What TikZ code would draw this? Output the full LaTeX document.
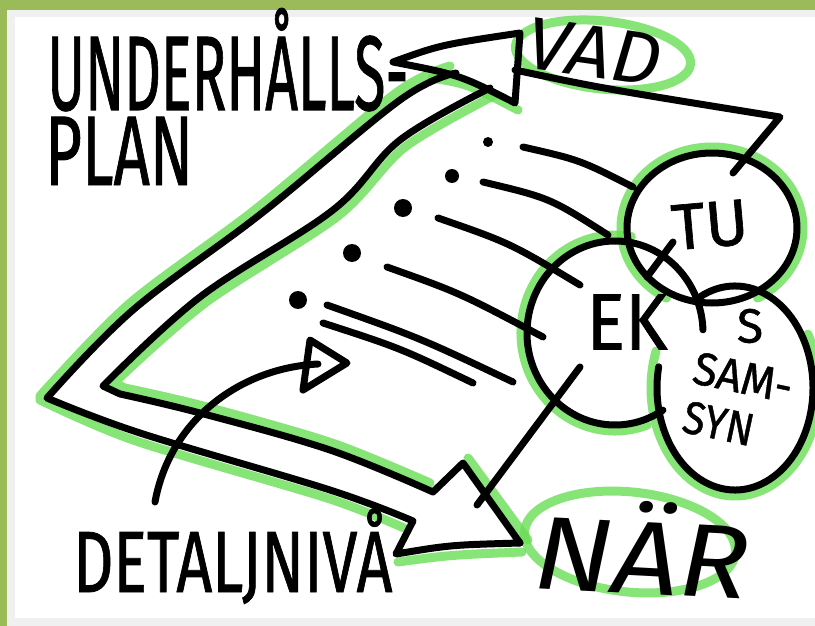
\documentclass[tikz,border=0pt]{standalone}
\usepackage{fontspec}
\newfontfamily\hand[FakeBold=1]{Fira Sans}
\newfontfamily\handlight{Fira Sans}
\definecolor{frameg}{RGB}{155,187,89}
\definecolor{frameb}{RGB}{240,240,240}
\definecolor{hl}{RGB}{105,222,85}
\newcommand{\handtext}[3]{\scalebox{#1}[1]{\fontsize{#2}{#2}\selectfont\hand #3}}
\newcommand{\handital}[3]{\scalebox{#1}[1]{\fontsize{#2}{#2}\selectfont\handlight\itshape #3}}
\begin{document}
\begin{tikzpicture}[x=1pt,y=-1pt,
  ink/.style={draw=black, line width=7pt, line cap=round, line join=round},
  halo/.style={draw=hl, line width=9pt, line cap=round, line join=round, opacity=0.8},
  lbl/.style={inner sep=0pt, text=black},
  dot/.style={fill=black, draw=none}]
\useasboundingbox (0,0) rectangle (815,626);
\fill[frameg] (0,0) rectangle (815,626);
\fill[frameb] (7,10) rectangle (815,626);
\fill[white] (15,17) rectangle (815,618);
% ---------- green highlights ----------
\draw[halo, shift={(603,55)}, rotate=-6] (0,0) ellipse[x radius=88, y radius=34];
\draw[halo, shift={(630,542)}, rotate=-6] (0,0) ellipse[x radius=106, y radius=50];
\draw[halo] (712,228) ++(120:91 and 81) arc[start angle=120, end angle=420, x radius=91, y radius=81];
\draw[halo] (615,333) ++(70:94 and 98) arc[start angle=70, end angle=280, x radius=94, y radius=98];
\draw[halo] (735,388) ++(-30:84 and 108) arc[start angle=-30, end angle=200, x radius=84, y radius=108];
\draw[halo] plot[smooth] coordinates {(450,66) (396,93) (256,209) (129,304) (40,396)}
  -- plot[smooth] coordinates {(40,400) (136,441) (327,498) (404,528)};
\draw[halo] plot[smooth] coordinates {(495,95) (405,147) (338,216) (205,303) (114,383)}
  -- plot[smooth] coordinates {(125,388) (203,406) (332,443) (430,483)};
\draw[halo] (432,78) .. controls (468,84) .. (518,110);
\draw[halo] (468,458) -- (528,540);
\draw[halo] (398,562) .. controls (450,555) .. (522,552);
% ---------- big double arrow ----------
\draw[ink] plot[smooth, tension=0.6] coordinates {(456,73) (400,100) (262,213) (133,310) (47,398)}
  -- plot[smooth, tension=0.6] coordinates {(47,398) (140,433) (330,490) (413,521)}
  -- (396,554) .. controls (450,545) .. (520,543);
\draw[ink] plot[smooth, tension=0.6] coordinates {(490,88) (400,140) (333,210) (200,297) (103,386)}
  -- (120,394) -- plot[smooth, tension=0.6] coordinates {(120,394) (200,413) (330,450) (433,492)}
  -- (463,463) -- (520,543);
\draw[ink] (393,62) .. controls (440,45) .. (520,33) -- (515,103) .. controls (460,75) .. cycle;
\draw[ink] (515,70) .. controls (600,88) .. (780,117) -- (733,173);
% ---------- detail arrow ----------
\draw[ink] (155,502) .. controls (170,420) and (240,368) .. (318,364);
\draw[ink] (310,340) -- (347,363) -- (303,390) -- cycle;
% ---------- bullets and lines ----------
\fill[dot] (488,142) circle[radius=5];
\fill[dot] (452,176) circle[radius=7];
\fill[dot] (403,208) circle[radius=9];
\fill[dot] (352,253) circle[radius=9];
\fill[dot] (298,300) circle[radius=9];
\draw[ink] (523,147) .. controls (580,160) .. (633,187);
\draw[ink] (483,182) .. controls (550,198) .. (608,235);
\draw[ink] (438,218) .. controls (510,243) .. (580,285);
\draw[ink] (387,267) .. controls (460,293) .. (543,337);
\draw[ink] (327,305) .. controls (420,338) .. (513,382);
\draw[ink] (323,323) .. controls (400,348) .. (473,383);
% ---------- circles ----------
\draw[ink] (712,228) ellipse[x radius=85, y radius=75];
\draw[ink] (615,333) ++(57:88 and 92) arc[start angle=57, end angle=358, x radius=88, y radius=92];
\draw[ink] (735,388) ++(244:78 and 102) arc[start angle=244, end angle=552, x radius=78, y radius=102];
\draw[ink] (647,277) -- (673,242);
\draw[ink] (580,367) -- (477,505);
% ---------- texts ----------
\node[lbl, anchor=base west] (title1) at (47,110) {\handtext{0.54}{106}{UNDERHÅLLS-}};
\node[lbl, anchor=base west] (title2) at (45,185) {\handtext{0.64}{99}{PLAN}};
\node[lbl, rotate=-8] (vad) at (594,52) {\handital{1.05}{74}{VAD}};
\node[lbl, rotate=5] (tu) at (710,225) {\handtext{1}{65}{TU}};
\node[lbl] (ek) at (627,322) {\handtext{0.9}{80}{EK}};
\node[lbl] (s) at (750,326) {\handtext{1}{48}{S}};
\node[lbl, rotate=-12, align=left, font=\fontsize{46}{50}\selectfont] (samsyn) at (738,402)
  {\handtext{0.95}{46}{SAM-}\\\handtext{0.88}{46}{SYN}};
\node[lbl, anchor=base west] (det) at (73,592) {\handtext{0.72}{87}{DETALJNIVÅ}};
\node[lbl, anchor=base, rotate=-3] (nar) at (640,594) {\handital{1.12}{104}{NÄR}};
\end{tikzpicture}
\end{document}
